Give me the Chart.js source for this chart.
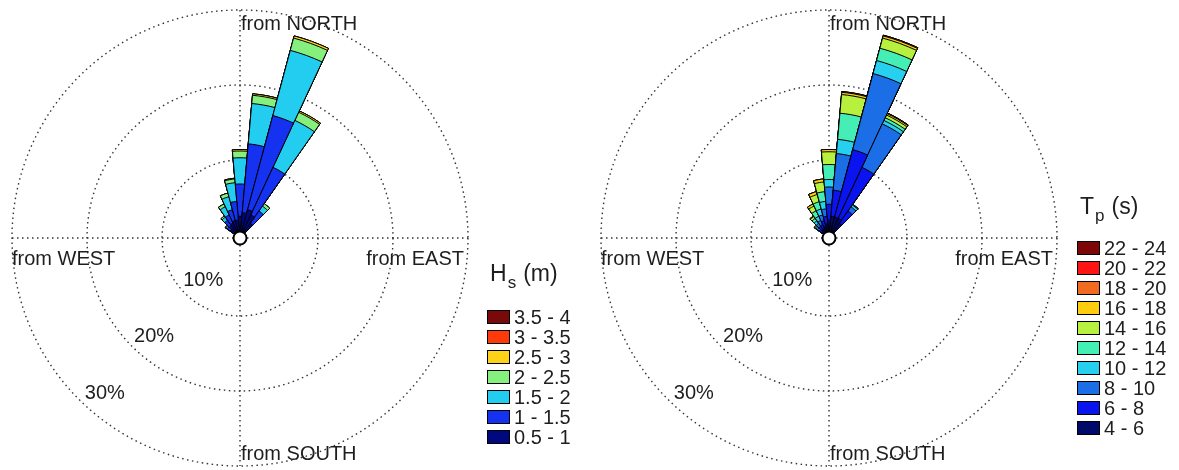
<!DOCTYPE html>
<html>
<head>
<meta charset="utf-8">
<script src="https://cdn.jsdelivr.net/npm/chart.js@4.4.1/dist/chart.umd.min.js"></script>
<style>
  html, body { margin: 0; background: #fff; }
  #wrap { position: relative; width: 1179px; height: 470px; font-family: "Liberation Sans", Arial, sans-serif; color: #1e1e1e; }
  #wrap canvas { position: absolute; top: 0; }
  .legend { position: absolute; top: 0; }
  .legend .title { position: absolute; left: 3px; font-size: 23px; line-height: 23px; white-space: nowrap; }
  .legend .title span { font-size: 17px; position: relative; top: 7px; margin: 0 7px 0 1px; }
  .legend .row { position: absolute; left: 0; height: 20px; display: flex; align-items: center; font-size: 20px; white-space: nowrap; }
  .legend .box { width: 21px; height: 12px; border: 1px solid #000; margin-right: 4px; }
</style>
</head>
<body>
<div id="wrap">
  <canvas id="hsRose" width="590" height="470" style="left:0"></canvas>
  <canvas id="tpRose" width="589" height="470" style="left:590px"></canvas>
  <div class="legend" id="hsLegend" style="left:487px"></div>
  <div class="legend" id="tpLegend" style="left:1077px"></div>
</div>
<script>
// direction sectors (deg, clockwise from north), 10 deg wide
const sectors = [0, 10, 20, 30, 40, 50, 60, 70, 80, 90, 100, 110, 120, 130, 140, 150, 160, 170,
                 180, 190, 200, 210, 220, 230, 240, 250, 260, 270, 280, 290, 300, 310, 320, 330, 340, 350];
// sectors that carry any data
const directions = [310, 320, 330, 340, 350, 0, 10, 20, 30, 40];

// significant wave height classes, % occurrence per direction
const hsLabels = ['0.5 - 1', '1 - 1.5', '1.5 - 2', '2 - 2.5', '2.5 - 3', '3 - 3.5', '3.5 - 4'];
const hsColors = ['#00087e', '#1432f0', '#22cdf0', '#86f07e', '#ffd21a', '#ff3a0a', '#7a0a0a'];
const hs05 = [1.2, 1.6, 1.8, 2.0, 2.0, 2.5, 3.0, 3.5, 3.0, 2.0];
const hs10 = [0.5, 0.9, 1.2, 1.5, 2.5, 4.3, 9.2, 13.0, 7.0, 2.0];
const hs15 = [0.2, 0.5, 1.2, 1.8, 2.5, 3.5, 5.4, 9.0, 6.9, 0.8];
const hs20 = [0.1, 0.2, 0.4, 0.5, 0.5, 0.9, 1.1, 1.7, 1.2, 0.4];
const hs25 = [0, 0, 0, 0, 0.1, 0.2, 0.2, 0.3, 0.2, 0];
const hs30 = [0, 0, 0, 0, 0, 0, 0, 0, 0, 0];
const hs35 = [0, 0, 0, 0, 0, 0, 0, 0, 0, 0];
const hsSeries = [hs05, hs10, hs15, hs20, hs25, hs30, hs35];

// peak period classes, % occurrence per direction
const tpLabels = ['4 - 6', '6 - 8', '8 - 10', '10 - 12', '12 - 14', '14 - 16', '16 - 18', '18 - 20', '20 - 22', '22 - 24'];
const tpColors = ['#000a6a', '#0a14ee', '#1c6ee6', '#26d0ee', '#44eeb4', '#b8f040', '#ffcc10', '#f06a20', '#ff1414', '#7e0606'];
const tp4 = [0.8, 1.0, 1.0, 1.2, 1.5, 2.0, 2.5, 2.5, 2.5, 2.0];
const tp6 = [0.4, 0.5, 0.6, 0.8, 1.0, 2.1, 3.5, 9.3, 7.5, 2.0];
const tp8 = [0.3, 0.5, 0.6, 0.8, 1.0, 2.3, 4.9, 10.5, 6.4, 0.7];
const tp10 = [0.2, 0.4, 0.6, 0.8, 1.0, 1.0, 1.9, 1.8, 0.5, 0.3];
const tp12 = [0.15, 0.4, 0.8, 1.0, 1.3, 2.0, 3.5, 1.7, 0.4, 0.1];
const tp14 = [0.15, 0.3, 0.7, 1.0, 1.3, 1.7, 2.5, 1.4, 0.4, 0];
const tp16 = [0, 0.1, 0.3, 0.4, 0.4, 0.3, 0.3, 0.3, 0.2, 0];
const tp18 = [0, 0, 0, 0, 0, 0, 0.1, 0.1, 0.1, 0];
const tp20 = [0, 0, 0, 0, 0, 0, 0, 0, 0, 0];
const tp22 = [0, 0, 0, 0, 0, 0, 0, 0, 0, 0];
const tpSeries = [tp4, tp6, tp8, tp10, tp12, tp14, tp16, tp18, tp20, tp22];

const ringTicks = [0, 10, 20, 30];
const ringLabels = ['10%', '20%', '30%'];
const compassLabels = ['from NORTH', 'from EAST', 'from SOUTH', 'from WEST'];

const FONT = '"Liberation Sans", Arial, sans-serif';
const TEXT = '#1e1e1e';
const DOTS = [1.5, 3.5];

// each class is drawn as a sector reaching its cumulative total; class 0 sits on top
function stackedSets(series, colors) {
  const running = sectors.map(() => 0);
  return series.map((vals, k) => {
    directions.forEach((d, i) => { running[sectors.indexOf(d)] += vals[i]; });
    return {
      data: running.slice(),
      backgroundColor: colors[k],
      borderColor: '#000',
      borderWidth: 1
    };
  });
}

const roseDecor = {
  id: 'roseDecor',
  beforeDatasetsDraw(chart) {
    const r = chart.scales.r, ctx = chart.ctx;
    const R = r.getDistanceFromCenterForValue(r.max);
    ctx.save();
    ctx.strokeStyle = '#333';
    ctx.lineWidth = 1.4;
    ctx.setLineDash(DOTS);
    ctx.beginPath();
    ctx.moveTo(r.xCenter, r.yCenter - R); ctx.lineTo(r.xCenter, r.yCenter + R);
    ctx.moveTo(r.xCenter - R, r.yCenter); ctx.lineTo(r.xCenter + R, r.yCenter);
    ctx.stroke();
    ctx.restore();
  },
  afterDatasetsDraw(chart) {
    const r = chart.scales.r, ctx = chart.ctx;
    const cx = r.xCenter, cy = r.yCenter;
    const R = r.getDistanceFromCenterForValue(r.max);
    ctx.save();
    // hub
    ctx.beginPath();
    ctx.arc(cx, cy, 6.5, 0, Math.PI * 2);
    ctx.fillStyle = '#fff';
    ctx.fill();
    ctx.lineWidth = 2;
    ctx.strokeStyle = '#000';
    ctx.stroke();

    ctx.fillStyle = TEXT;
    ctx.font = '20px ' + FONT;
    ctx.textBaseline = 'alphabetic';
    ctx.textAlign = 'left';
    ctx.fillText(compassLabels[0], cx + 1, cy - R + 20);
    ctx.fillText(compassLabels[2], cx + 1, cy + R - 6);
    ctx.fillText(compassLabels[3], cx - R, cy + 27);
    ctx.textAlign = 'right';
    ctx.fillText(compassLabels[1], cx + R - 4, cy + 27);

    // ring values along the south-west
    const a = 221 * Math.PI / 180;
    ctx.textAlign = 'center';
    ctx.textBaseline = 'middle';
    ringLabels.forEach((t, i) => {
      const d = r.getDistanceFromCenterForValue(ringTicks[i + 1]) - 22;
      ctx.fillText(t, cx + d * Math.sin(a), cy - d * Math.cos(a));
    });
    ctx.restore();
  }
};

function makeRose(id, series, colors, padLeft) {
  return new Chart(document.getElementById(id), {
    type: 'polarArea',
    data: { labels: sectors, datasets: stackedSets(series, colors) },
    options: {
      responsive: false,
      animation: false,
      events: [],
      layout: { padding: { left: padLeft, right: 122, top: 10, bottom: 4 } },
      plugins: { legend: { display: false }, tooltip: { enabled: false } },
      scales: {
        r: {
          min: -0.4,
          max: 30,
          startAngle: -5,
          ticks: { display: false },
          afterBuildTicks: (s) => { s.ticks = ringTicks.map(v => ({ value: v })); },
          grid: { color: '#333', lineWidth: 1.4, circular: true },
          border: { dash: DOTS },
          angleLines: { display: false },
          pointLabels: { display: false }
        }
      }
    },
    plugins: [roseDecor]
  });
}

function makeLegend(id, titleMain, titleSub, titleUnit, titleBaseline, firstRow, labels, colors) {
  const el = document.getElementById(id);
  const t = document.createElement('div');
  t.className = 'title';
  t.style.top = (titleBaseline - 20) + 'px';
  t.innerHTML = titleMain + '<span>' + titleSub + '</span>' + titleUnit;
  el.appendChild(t);
  for (let i = labels.length - 1, n = 0; i >= 0; i--, n++) {
    const row = document.createElement('div');
    row.className = 'row';
    row.style.top = (firstRow - 10 + n * 20) + 'px';
    const box = document.createElement('div');
    box.className = 'box';
    box.style.background = colors[i];
    row.appendChild(box);
    row.appendChild(document.createTextNode(labels[i]));
    el.appendChild(row);
  }
}

makeRose('hsRose', hsSeries, hsColors, 12);
makeRose('tpRose', tpSeries, tpColors, 11);
makeLegend('hsLegend', 'H', 's', '(m)', 282, 317, hsLabels, hsColors);
makeLegend('tpLegend', 'T', 'p', '(s)', 215, 248, tpLabels, tpColors);
</script>
</body>
</html>
